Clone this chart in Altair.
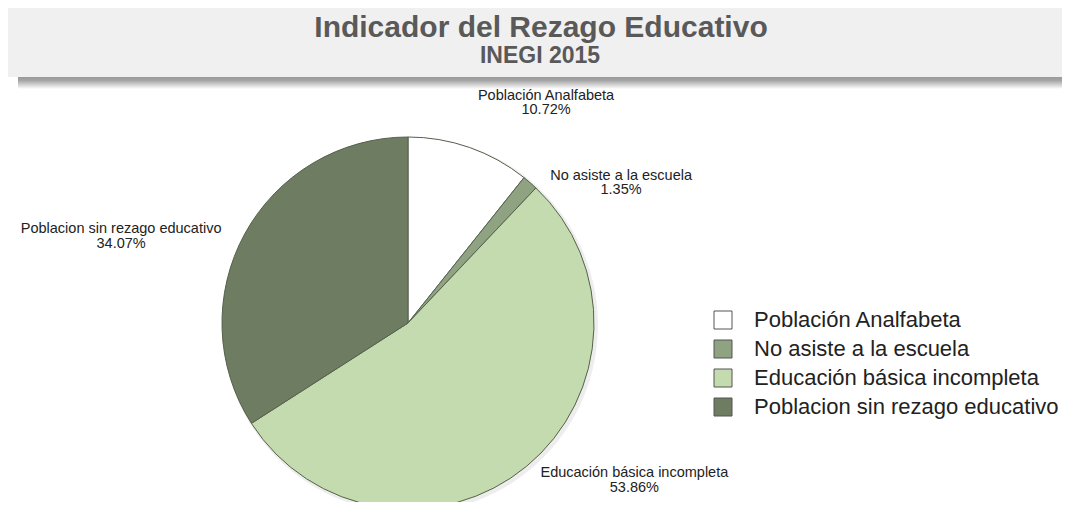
import altair as alt
import pandas as pd

# ---- data ----
names = ["Población Analfabeta", "No asiste a la escuela",
         "Educación básica incompleta", "Poblacion sin rezago educativo"]
values = [10.72, 1.35, 53.86, 34.07]
colors = ["#ffffff", "#8fa282", "#c3dbae", "#6e7c62"]
title_text = "Indicador del Rezago Educativo"
subtitle_text = "INEGI 2015"

df = pd.DataFrame({"name": names, "value": values, "idx": list(range(len(names)))})

W, H = 1054, 494
CX, CY, R = 400, 315, 186
LRX, LRY = 209, 195      # label anchor radii
MIN_GAP = 80             # minimum vertical spacing between labels on one side
FONT = "Liberation Sans, Arial, sans-serif"

base = alt.Chart(df)

# title band + shadow
band_df = pd.DataFrame({"k": [0]})
band = alt.Chart(band_df).mark_rect(fill="#f0f0f0").encode(
    x=alt.value(0), x2=alt.value(W), y=alt.value(0), y2=alt.value(69))
shadow = alt.Chart(band_df).mark_rect(
    color=alt.Gradient(gradient="linear",
                       stops=[alt.GradientStop(color="#999999", offset=0),
                              alt.GradientStop(color="#a6a6a6", offset=0.3),
                              alt.GradientStop(color="#ffffff", offset=1)],
                       x1=0, x2=0, y1=0, y2=1)
).encode(x=alt.value(10), x2=alt.value(W), y=alt.value(69), y2=alt.value(81))

title = alt.Chart(pd.DataFrame({"t": [title_text]})).mark_text(
    font=FONT, fontSize=30, fontWeight="bold", color="#595959",
    align="center", baseline="alphabetic"
).encode(text="t:N", x=alt.value(533), y=alt.value(29))
subtitle = alt.Chart(pd.DataFrame({"t": [subtitle_text]})).mark_text(
    font=FONT, fontSize=23, fontWeight="bold", color="#595959",
    align="center", baseline="alphabetic"
).encode(text="t:N", x=alt.value(532), y=alt.value(55))

# pie shadow
pie_shadow = base.mark_arc(outerRadius=R + 2, fill="#000000", opacity=0.07).encode(
    theta=alt.Theta("value:Q", stack=True), order=alt.Order("idx:O"),
    x=alt.value(CX + 2), y=alt.value(CY + 2))

pie = base.mark_arc(outerRadius=R, stroke="#56614c", strokeWidth=1).encode(
    theta=alt.Theta("value:Q", stack=True),
    order=alt.Order("idx:O"),
    color=alt.Color("name:N", sort=names,
                    scale=alt.Scale(domain=names, range=colors),
                    legend=alt.Legend(orient="none", legendX=704, legendY=301,
                                      title=None, labelFontSize=22, labelLimit=600,
                                      labelFont=FONT, labelColor="#222222",
                                      symbolType="square", symbolSize=324,
                                      symbolStrokeColor="#555555", symbolStrokeWidth=1,
                                      rowPadding=7, labelOffset=20)),
    x=alt.value(CX), y=alt.value(CY))

labels = base.transform_joinaggregate(
    total="sum(value)"
).transform_window(
    cum="sum(value)", sort=[alt.SortField("idx")], frame=[None, 0]
).transform_calculate(
    ang="(datum.cum - datum.value / 2) / datum.total * 2 * PI",
    side="sin(datum.ang) >= 0 ? 1 : -1",
    hw="length(datum.name) * 3.45",
    lx=f"{CX} + {LRX} * sin(datum.ang) + datum.side * datum.hw",
    ly0=f"{CY} - {LRY} * cos(datum.ang)",
).transform_window(
    window=[alt.WindowFieldDef(op="lead", field="ly0", param=1, **{"as": "next_ly"}),
            alt.WindowFieldDef(op="lead", field="side", param=1, **{"as": "next_side"})],
    sort=[alt.SortField("idx")], frame=[None, None]
).transform_calculate(
    ly=(f"(datum.next_ly != null && datum.next_side == datum.side && "
        f"datum.next_ly - datum.ly0 < {MIN_GAP}) ? datum.next_ly - {MIN_GAP} : datum.ly0"),
    lab="datum.name + '\\n' + format(datum.value, '.2f') + '%'"
).mark_text(font=FONT, fontSize=14.5, color="#222222", align="center",
            baseline="middle", lineBreak="\n", lineHeight=14.5).encode(
    x=alt.X("lx:Q", scale=None, axis=None),
    y=alt.Y("ly:Q", scale=None, axis=None),
    text="lab:N")

chart = alt.layer(band, shadow, title, subtitle, pie_shadow, pie, labels).properties(
    width=W, height=H, autosize=alt.AutoSizeParams(type="none"),
    padding=0, background="#ffffff"
).configure_view(stroke=None)

chart.save("out.html", embed_options={"renderer": "svg", "actions": False})
